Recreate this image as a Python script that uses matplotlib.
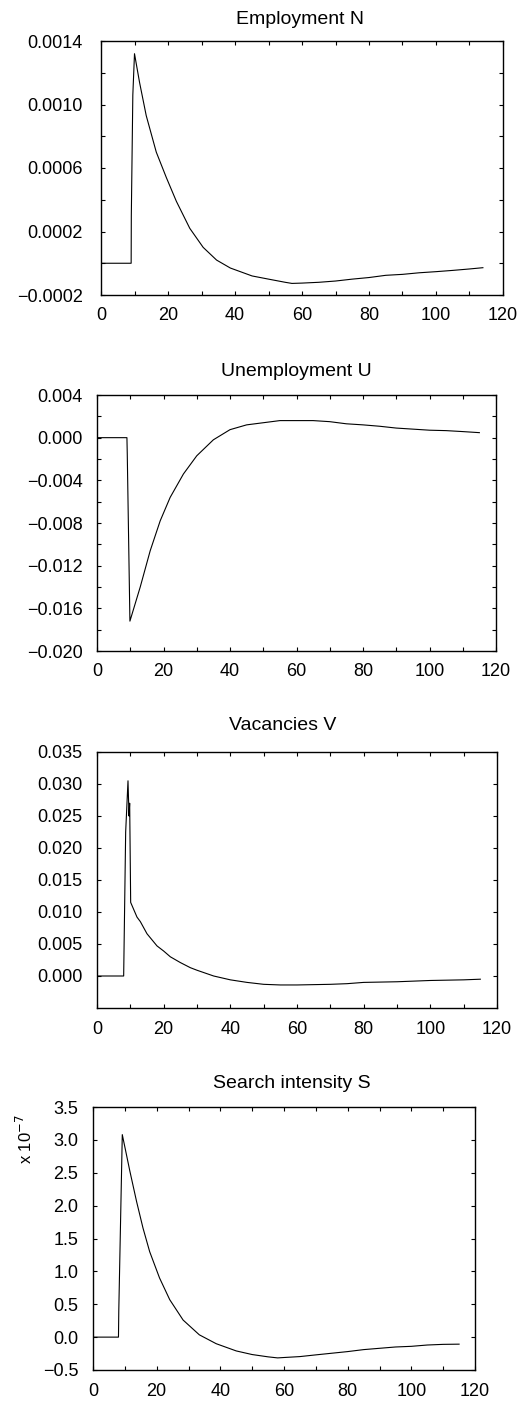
import matplotlib
matplotlib.use("Agg")
import matplotlib.pyplot as plt
from matplotlib.ticker import FixedLocator, FuncFormatter, MultipleLocator

plt.rcParams['font.family'] = ['Liberation Sans', 'DejaVu Sans']

# ---------------- data ----------------
titles = ["Employment N", "Unemployment U", "Vacancies V", "Search intensity S"]

t_emp = [0, 9, 9.05, 9.5, 10, 11.5, 13.5, 16.5, 19.5, 22.5, 26.5, 30.5, 34.5, 38.6,
         45.1, 50, 55, 57, 60, 65, 70, 75, 80, 85, 90, 95, 100, 105, 110, 114]
v_emp = [0, 0, 0.0003, 0.00106, 0.00132, 0.00114, 0.00093, 0.00070, 0.00054, 0.00039,
         0.00022, 0.00010, 0.00002, -0.00003, -0.00008, -0.0001, -0.00012, -0.000127,
         -0.000125, -0.00012, -0.000112, -0.0001, -0.00009, -0.000076, -0.00007,
         -0.00006, -0.000053, -0.000045, -0.000036, -0.000028]

t_une = [0, 9, 9.1, 9.9, 13, 16, 19, 22, 26, 30, 35, 40, 45, 50, 55, 60, 65, 70,
         75, 80, 85, 90, 95, 100, 105, 110, 115]
v_une = [0, 0, -0.0015, -0.0172, -0.0140, -0.0106, -0.0078, -0.0056, -0.0034, -0.0017,
         -0.0002, 0.00075, 0.0012, 0.0014, 0.0016, 0.0016, 0.0016, 0.0015, 0.0013,
         0.0012, 0.00107, 0.0009, 0.0008, 0.0007, 0.00066, 0.00057, 0.00047]

t_vac = [0, 8, 8.6, 9.3, 9.6, 9.8, 10.1, 12, 13, 15, 18, 20, 22, 25, 28, 30, 35, 40,
         45, 50, 55, 60, 65, 70, 75, 80, 85, 90, 95, 100, 105, 110, 115]
v_vac = [0, 0, 0.0225, 0.0305, 0.025, 0.027, 0.0115, 0.0092, 0.0085, 0.0066, 0.0047,
         0.0039, 0.0030, 0.0021, 0.0013, 0.0009, 0.0, -0.0006, -0.001, -0.0013, -0.0014,
         -0.0014, -0.00135, -0.0013, -0.0012, -0.001, -0.00095, -0.0009, -0.0008,
         -0.0007, -0.00065, -0.0006, -0.0005]

t_srch = [0, 8, 8.1, 9.2, 11.6, 13.7, 15.7, 17.8, 20.9, 24.1, 28.3, 33.4, 38.7, 45,
          50, 55, 58, 60, 65, 70, 75, 80, 85, 90, 95, 100, 105, 110, 115]
v_srch = [0, 0, 0.4, 3.08, 2.52, 2.06, 1.66, 1.30, 0.90, 0.57, 0.26, 0.035, -0.10,
          -0.21, -0.265, -0.30, -0.316, -0.31, -0.296, -0.27, -0.245, -0.22, -0.19,
          -0.17, -0.15, -0.14, -0.12, -0.11, -0.107]

x_major = [0, 20, 40, 60, 80, 100, 120]
y_ticks_emp = [-0.0002, 0.0002, 0.0006, 0.0010, 0.0014]
y_ticks_une = [-0.020, -0.016, -0.012, -0.008, -0.004, 0.000, 0.004]
y_ticks_vac = [0.000, 0.005, 0.010, 0.015, 0.020, 0.025, 0.030, 0.035]
y_ticks_srch = [-0.5, 0.0, 0.5, 1.0, 1.5, 2.0, 2.5, 3.0, 3.5]

# ---------------- layout ----------------
W, H = 519, 1409
fig = plt.figure(figsize=(W / 100, H / 100), dpi=100)

def rect(l, r, t, b):
    return [l / W, 1 - b / H, (r - l) / W, (b - t) / H]

panels = [
    dict(t=t_emp, v=v_emp, rect=rect(101, 503, 41, 295), ylim=(-0.0002, 0.0014),
         yticks=y_ticks_emp, yminor=0.0002, fmt="{:.4f}", ypad=13, tpad=12.5, tx=0.495),
    dict(t=t_une, v=v_une, rect=rect(97, 496, 395, 651), ylim=(-0.020, 0.004),
         yticks=y_ticks_une, yminor=0.002, fmt="{:.3f}", ypad=10.5, tpad=14, tx=0.5),
    dict(t=t_vac, v=v_vac, rect=rect(97, 497, 752, 1008), ylim=(-0.005, 0.035),
         yticks=y_ticks_vac, yminor=None, fmt="{:.3f}", ypad=10.5, tpad=15.5, tx=0.4645),
    dict(t=t_srch, v=v_srch, rect=rect(93, 475, 1107, 1370), ylim=(-0.5, 3.5),
         yticks=y_ticks_srch, yminor=None, fmt="{:.1f}", ypad=10.5, tpad=14, tx=0.52),
]

for p, title in zip(panels, titles):
    ax = fig.add_axes(p["rect"])
    ax.plot(p["t"], p["v"], color="black", lw=0.8)
    ax.set_xlim(0, 120)
    ax.set_ylim(*p["ylim"])
    ax.xaxis.set_major_locator(FixedLocator(x_major))
    ax.xaxis.set_minor_locator(MultipleLocator(10))
    ax.yaxis.set_major_locator(FixedLocator(p["yticks"]))
    if p["yminor"] is not None:
        ax.yaxis.set_minor_locator(MultipleLocator(p["yminor"]))
    fmt = p["fmt"]
    ax.yaxis.set_major_formatter(FuncFormatter(
        lambda v, pos, fmt=fmt: fmt.format(v).replace("-", "\u2212")
        if abs(v) > 1e-12 else fmt.format(0.0)))
    ax.tick_params(which="both", direction="in", top=True, right=True,
                   length=3, width=0.8, labelsize=13)
    ax.tick_params(axis="x", which="major", pad=9)
    ax.tick_params(axis="y", which="major", pad=p["ypad"])
    for s in ax.spines.values():
        s.set_linewidth(1.0)
    ax.set_title(title, fontsize=14, pad=p["tpad"], x=p["tx"])

fig.text(25 / W, 1 - 1139 / H, r"x 10$^{-7}$", rotation=90, ha="center", va="center",
         fontsize=12)

fig.savefig("out.png", dpi=100)
